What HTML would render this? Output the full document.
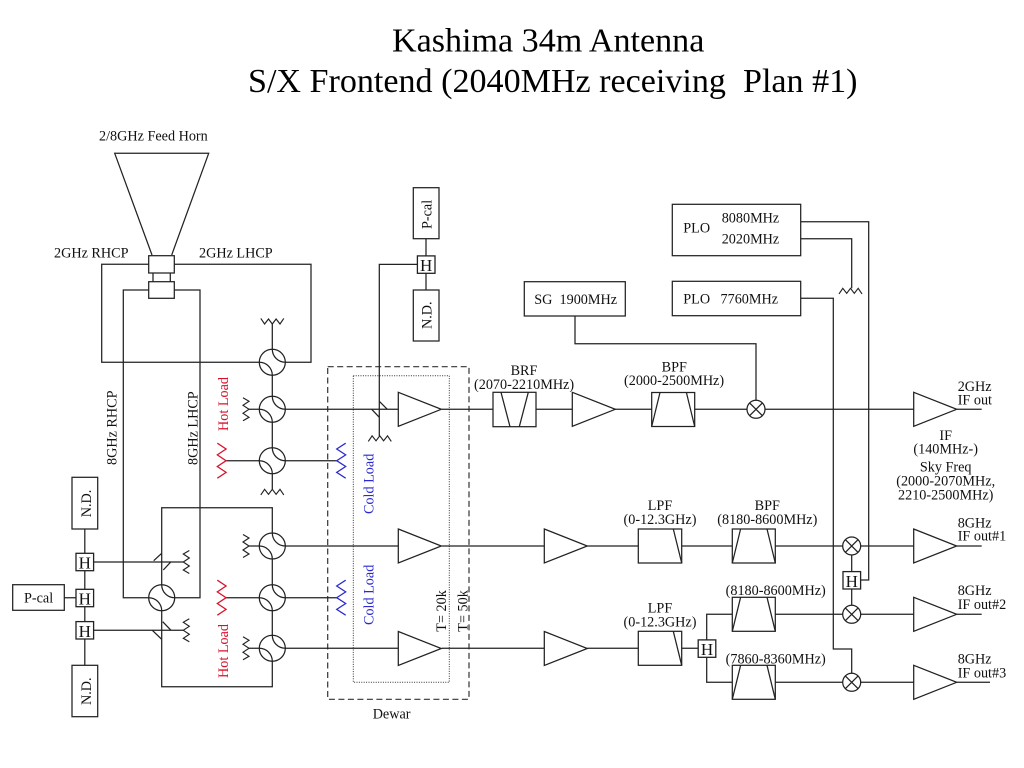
<!DOCTYPE html>
<html>
<head>
<meta charset="utf-8">
<title>Kashima 34m Antenna S/X Frontend</title>
<style>
html,body{margin:0;padding:0;background:#fff;}
svg{display:block;}
text{font-family:"Liberation Serif",serif;font-size:14.2px;fill:#111;}
.t{font-size:34.1px;fill:#000;}
.h{font-size:17px;text-anchor:middle;}
.c{text-anchor:middle;}
.r{fill:#d8112a;}
.b{fill:#2a2ad0;}
.l{fill:none;stroke:#222;stroke-width:1.25;}
</style>
</head>
<body>
<svg width="1024" height="768" viewBox="0 0 1024 768" xmlns="http://www.w3.org/2000/svg">
<defs>
<g id="hy" fill="none" stroke="#222" stroke-width="1.25">
<circle r="13" fill="#fff"/>
<path d="M-13,0 A13,13 0 0 1 0,13"/>
<path d="M0,-13 A13,13 0 0 0 13,0"/>
</g>
<g id="mx" fill="none" stroke="#222" stroke-width="1.25">
<circle r="9" fill="#fff"/>
<path d="M-6.4,-6.4 L6.4,6.4 M-6.4,6.4 L6.4,-6.4"/>
</g>
<path id="amp" d="M0,-17 L43,0 L0,17 Z" fill="#fff" stroke="#222" stroke-width="1.25"/>
<rect id="hb" x="-8.8" y="-8.7" width="17.6" height="17.4" fill="#fff" stroke="#222" stroke-width="1.3"/>
<g id="bpf" fill="#fff" stroke="#222" stroke-width="1.25">
<rect x="0" y="-17" width="43" height="34"/>
<path d="M8.3,-17 L0,17 M34.7,-17 L43,17" fill="none"/>
</g>
<g id="lpf" fill="#fff" stroke="#222" stroke-width="1.25">
<rect x="0" y="-17" width="43.4" height="34"/>
<path d="M35,-17 L43.4,17" fill="none"/>
</g>
<path id="zl" d="M-6,-11.5 L0,-8 L-6,-4 L0,0 L-6,4 L0,8 L-6,11.5" fill="none" stroke="#222" stroke-width="1.15"/>
<path id="zd" d="M-11.5,-5.6 L-7.7,0 L-3.8,-5 L0,0 L3.8,-5 L7.7,0 L11.5,-5.6" fill="none" stroke="#222" stroke-width="1.15"/>
<path id="zu" d="M-11.5,5.6 L-7.7,0 L-3.8,5 L0,0 L3.8,5 L7.7,0 L11.5,5.6" fill="none" stroke="#222" stroke-width="1.15"/>
<path id="zr" d="M0,-17.5 L8.8,-11.7 L0,-5.8 L8.8,0 L0,5.8 L8.8,11.7 L0,17.5" fill="none" stroke="#d8112a" stroke-width="1.25"/>
<path id="zb" d="M9,-17.5 L0,-11.7 L9,-5.8 L0,0 L9,5.8 L0,11.7 L9,17.5" fill="none" stroke="#2a2ad0" stroke-width="1.25"/>
</defs>

<!-- Title -->
<text class="t" x="392" y="51.5">Kashima 34m Antenna</text>
<text class="t" x="248" y="92" xml:space="preserve">S/X Frontend (2040MHz receiving  Plan #1)</text>

<!-- Dewar boxes -->
<rect x="327.7" y="366.7" width="141.3" height="332.6" fill="none" stroke="#333" stroke-width="1.2" stroke-dasharray="6,3.5"/>
<rect x="353.3" y="375.7" width="96" height="306.6" fill="none" stroke="#333" stroke-width="1" stroke-dasharray="1,1.4"/>

<!-- Wires -->
<g class="l">
<!-- horn -->
<path d="M152,255 L114.7,153.3 L208.7,153.3 L171.7,255"/>
<path d="M153,273 V282 M170.3,273 V282"/>
<!-- 2GHz loop -->
<path d="M148.7,264.3 H101.7 V362.3 H311 V264.3 H174.3"/>
<!-- 8GHz pair -->
<path d="M148.7,290 H123.3 V597.7 H148.7"/>
<path d="M174.3,290 H200 V597.7 H174.7"/>
<!-- vertical hybrid chains -->
<path d="M272.3,324 V349 M272.3,375 V396 M272.3,422 V447.7 M272.3,473.7 V489.3"/>
<path d="M161.7,584.7 V507.7 H272.3 V533 M272.3,559 V584.7 M272.3,610.7 V635.3 M272.3,661.3 V686.7 H161.7 V610.7"/>
<!-- hybrid loads -->
<path d="M249,409.3 H259.3 M249,546 H259.3 M249,648.3 H259.3 M226,460.7 H259.3 M226,597.7 H259.3"/>
<path d="M285.3,460.7 H336.7 M285.3,597.7 H336.7"/>
<!-- left cal lines -->
<path d="M84.8,529 V553.3 M84.8,570.7 V589.3 M84.8,606.7 V621.7 M84.8,639 V665.3 M64.3,597.7 H76"/>
<path d="M93.6,562 H183.3 M93.6,630.3 H183.3"/>
<path d="M153.7,560.7 L161.7,553.3 M163.3,570 L171,561.7 M162.7,621.7 L171,630.3 M152.3,630.3 L161.7,639.3"/>
<!-- top cal -->
<path d="M426,238.7 V256 M426,273.3 V290 M417.2,264.4 H379.3 V436"/>
<path d="M371.7,409.3 L379.3,417.3 M379.3,401.3 L387.3,409.3"/>
<!-- row 1 -->
<path d="M285.3,409.3 H398.3 M441.7,409.3 H493 M536,409.3 H572.3 M615,409.3 H651.7 M694.3,409.3 H747 M765,409.3 H913.7 M956.7,409.3 H981.7"/>
<!-- row 2 -->
<path d="M285.3,546 H398.3 M441.7,546 H544.3 M587.3,546 H638.3 M681.7,546 H732.3 M775.3,546 H842.7 M860.7,546 H913.7 M956.7,546 H981.7"/>
<!-- row 3 -->
<path d="M285.3,648.3 H398.3 M441.7,648.3 H544.3 M587.3,648.3 H638.3 M681.7,648.3 H698.3"/>
<path d="M732.3,614.3 H706.7 V640 M706.7,657.3 V682.3 H732.3"/>
<path d="M775.3,614.3 H842.7 M860.7,614.3 H913.7 M956.7,614.3 H981.7"/>
<path d="M775.3,682.3 H842.7 M860.7,682.3 H913.7 M956.7,682.3 H990"/>
<!-- LO lines -->
<path d="M575,316 V343.7 H756 V400.3"/>
<path d="M800.7,221.7 H868.7 V580 H860.7"/>
<path d="M800.7,238.7 H851.7 V288.3"/>
<path d="M800.7,298.3 H833.3 V649 H851.7 V673.3"/>
<path d="M851.7,555 V571.7 M851.7,589 V605.3"/>
</g>

<!-- Horn boxes -->
<g fill="#fff" stroke="#222" stroke-width="1.25">
<rect x="148.7" y="255.7" width="25.6" height="17.3"/>
<rect x="148.7" y="281.7" width="25.6" height="16.6"/>
<rect x="72" y="477.3" width="25.7" height="51.7"/>
<rect x="72" y="665.3" width="25.7" height="51.4"/>
<rect x="12.7" y="584.7" width="51.6" height="25.6"/>
<rect x="413.3" y="187.7" width="25.7" height="51"/>
<rect x="413.3" y="290" width="25.7" height="51"/>
<rect x="524.3" y="281.7" width="101" height="34.3"/>
<rect x="672.3" y="204.3" width="128.4" height="51.4"/>
<rect x="672.3" y="281.3" width="128.4" height="34.4"/>
</g>

<!-- Hybrids -->
<use href="#hy" x="272.3" y="362.3"/>
<use href="#hy" x="272.3" y="409.3"/>
<use href="#hy" x="272.3" y="460.7"/>
<use href="#hy" x="272.3" y="546"/>
<use href="#hy" x="272.3" y="597.7"/>
<use href="#hy" x="272.3" y="648.3"/>
<use href="#hy" x="161.7" y="597.7"/>

<!-- Mixers -->
<use href="#mx" x="756" y="409.3"/>
<use href="#mx" x="851.7" y="546"/>
<use href="#mx" x="851.7" y="614.3"/>
<use href="#mx" x="851.7" y="682.3"/>

<!-- Amps -->
<use href="#amp" x="398.3" y="409.3"/>
<use href="#amp" x="398.3" y="546"/>
<use href="#amp" x="398.3" y="648.5"/>
<use href="#amp" x="572.3" y="409.3"/>
<use href="#amp" x="544.3" y="546"/>
<use href="#amp" x="544.3" y="648.5"/>
<use href="#amp" x="913.7" y="409.3"/>
<use href="#amp" x="913.7" y="546"/>
<use href="#amp" x="913.7" y="614.3"/>
<use href="#amp" x="913.7" y="682.3"/>

<!-- Filters -->
<g fill="#fff" stroke="#222" stroke-width="1.25">
<rect x="493" y="392.3" width="43" height="34.4"/>
<path d="M501,392.3 L510,426.7 M528.3,392.3 L519.3,426.7" fill="none"/>
</g>
<use href="#bpf" x="651.7" y="409.5"/>
<use href="#bpf" x="732.3" y="546"/>
<use href="#bpf" x="732.3" y="614.3"/>
<use href="#bpf" x="732.3" y="682.3"/>
<use href="#lpf" x="638.3" y="546"/>
<use href="#lpf" x="638.3" y="648.3"/>

<!-- H boxes -->
<use href="#hb" x="84.8" y="562"/>
<use href="#hb" x="84.8" y="598"/>
<use href="#hb" x="84.8" y="630.3"/>
<use href="#hb" x="426.2" y="264.6"/>
<use href="#hb" x="851.8" y="580.3"/>
<use href="#hb" x="707" y="648.6"/>

<!-- Resistors -->
<use href="#zd" x="272.3" y="324"/>
<use href="#zu" x="272.3" y="489.3"/>
<use href="#zu" x="379.8" y="435.8"/>
<use href="#zu" x="850.5" y="288.3"/>
<use href="#zl" x="249" y="409.3"/>
<use href="#zl" x="249" y="546"/>
<use href="#zl" x="249" y="648.3"/>
<g transform="translate(183.3,562)"><use href="#zl" transform="scale(-1,1)"/></g>
<g transform="translate(183.3,630.3)"><use href="#zl" transform="scale(-1,1)"/></g>
<use href="#zr" x="217.3" y="460.7"/>
<use href="#zr" x="217.3" y="597.7"/>
<use href="#zb" x="336.7" y="460.7"/>
<use href="#zb" x="336.7" y="597.7"/>

<!-- Labels -->
<text x="99" y="140.7">2/8GHz Feed Horn</text>
<text x="54" y="257.7">2GHz RHCP</text>
<text x="199" y="257.7">2GHz LHCP</text>
<text transform="translate(116.7,465) rotate(-90)">8GHz RHCP</text>
<text transform="translate(197.7,465) rotate(-90)">8GHz LHCP</text>
<text class="r" transform="translate(228,431) rotate(-90)">Hot Load</text>
<text class="r" transform="translate(228,678) rotate(-90)">Hot Load</text>
<text class="b" transform="translate(373.3,514) rotate(-90)">Cold Load</text>
<text class="b" transform="translate(373.3,625) rotate(-90)">Cold Load</text>
<text transform="translate(446,631.7) rotate(-90)">T= 20k</text>
<text transform="translate(467.7,631.7) rotate(-90)">T= 50k</text>
<text x="372.7" y="718.3">Dewar</text>
<text transform="translate(431.7,229) rotate(-90)">P-cal</text>
<text transform="translate(431.7,329) rotate(-90)">N.D.</text>
<text transform="translate(91,517.3) rotate(-90)">N.D.</text>
<text transform="translate(91,705) rotate(-90)">N.D.</text>
<text x="24" y="602.7">P-cal</text>
<text class="h" x="84.8" y="568.5">H</text>
<text class="h" x="84.8" y="604.5">H</text>
<text class="h" x="84.8" y="636.8">H</text>
<text class="h" x="426.2" y="271">H</text>
<text class="h" x="851.8" y="586.8">H</text>
<text class="h" x="707" y="655.1">H</text>
<text x="534.3" y="304" xml:space="preserve">SG  1900MHz</text>
<text class="c" x="524" y="375">BRF</text>
<text x="474" y="389">(2070-2210MHz)</text>
<text class="c" x="674.3" y="371.7">BPF</text>
<text x="624" y="385">(2000-2500MHz)</text>
<text x="683.3" y="232.7">PLO</text>
<text x="721.7" y="222.7">8080MHz</text>
<text x="721.7" y="243.3">2020MHz</text>
<text x="683.3" y="303.3">PLO</text>
<text x="720.5" y="303.3">7760MHz</text>
<text x="957.7" y="391">2GHz</text>
<text x="957.7" y="404.3">IF out</text>
<text class="c" x="945.7" y="440">IF</text>
<text class="c" x="945.7" y="453.3">(140MHz-)</text>
<text class="c" x="945.7" y="471.7">Sky Freq</text>
<text class="c" x="945.7" y="485.7">(2000-2070MHz,</text>
<text class="c" x="945.7" y="499.3">2210-2500MHz)</text>
<text class="c" x="660" y="510">LPF</text>
<text class="c" x="660" y="524">(0-12.3GHz)</text>
<text class="c" x="660" y="612.7">LPF</text>
<text class="c" x="660" y="626.7">(0-12.3GHz)</text>
<text class="c" x="767.3" y="510">BPF</text>
<text class="c" x="767.3" y="524">(8180-8600MHz)</text>
<text class="c" x="775.7" y="595">(8180-8600MHz)</text>
<text class="c" x="775.7" y="663.3">(7860-8360MHz)</text>
<text x="957.7" y="527.3">8GHz</text>
<text x="957.7" y="540.7">IF out#1</text>
<text x="957.7" y="595">8GHz</text>
<text x="957.7" y="609">IF out#2</text>
<text x="957.7" y="663.3">8GHz</text>
<text x="957.7" y="677.3">IF out#3</text>
</svg>
</body>
</html>
